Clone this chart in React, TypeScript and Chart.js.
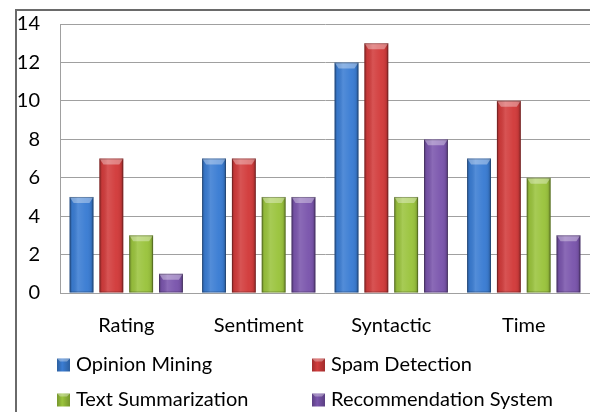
import React, { useEffect, useRef } from "react";
import { Chart, registerables } from "chart.js";

Chart.register(...registerables);

const categories = ["Rating", "Sentiment", "Syntactic", "Time"];
const seriesNames = ["Opinion Mining", "Spam Detection", "Text Summarization", "Recommendation System"];
const opinionMining = [5, 7, 12, 7];
const spamDetection = [7, 7, 13, 10];
const textSummarization = [3, 5, 5, 6];
const recommendationSystem = [1, 5, 8, 3];
const yTicks = [0, 2, 4, 6, 8, 10, 12, 14];

const colors = ["#3b7dd3", "#d23c3c", "#9bc43e", "#7b56ad"];
const borders = ["#2c5f9f", "#a02c2c", "#76962c", "#5b3f82"];
const FONT = "Lato";

const borderPlugin = {
  id: "frameBorder",
  beforeDraw(chart: any) {
    const ctx = chart.ctx;
    ctx.save();
    ctx.strokeStyle = "#6a6a6a";
    ctx.lineWidth = 2;
    ctx.beginPath();
    ctx.moveTo(16, chart.height);
    ctx.lineTo(16, 10);
    ctx.lineTo(chart.width, 10);
    ctx.stroke();
    ctx.restore();
  },
};

const bevelPlugin = {
  id: "bevel",
  afterDatasetsDraw(chart: any) {
    const ctx = chart.ctx;
    ctx.save();
    chart.data.datasets.forEach((_: any, di: number) => {
      const meta = chart.getDatasetMeta(di);
      meta.data.forEach((bar: any) => {
        const { x, y, base, width } = bar.getProps(["x", "y", "base", "width"], true);
        const l = x - width / 2;
        const r = x + width / 2;
        const h = base - y;
        if (h <= 0) return;
        const g = ctx.createLinearGradient(l, 0, r, 0);
        g.addColorStop(0, "rgba(0,0,0,0.28)");
        g.addColorStop(0.12, "rgba(0,0,0,0.05)");
        g.addColorStop(0.35, "rgba(255,255,255,0.12)");
        g.addColorStop(0.7, "rgba(255,255,255,0.02)");
        g.addColorStop(0.88, "rgba(0,0,0,0.06)");
        g.addColorStop(1, "rgba(0,0,0,0.3)");
        ctx.fillStyle = g;
        ctx.fillRect(l, y, width, h);
        const bv = Math.min(6, h / 2);
        ctx.fillStyle = "rgba(255,255,255,0.35)";
        ctx.beginPath();
        ctx.moveTo(l, y);
        ctx.lineTo(r, y);
        ctx.lineTo(r - 4, y + bv);
        ctx.lineTo(l + 4, y + bv);
        ctx.closePath();
        ctx.fill();
        ctx.strokeStyle = "rgba(0,0,0,0.25)";
        ctx.lineWidth = 1;
        ctx.strokeRect(l + 0.5, y + 0.5, width - 1, h - 1);
      });
    });
    ctx.restore();
  },
};

const legendPlugin = {
  id: "gridLegend",
  afterDraw(chart: any) {
    const ctx = chart.ctx;
    const cols = [57, 312];
    const rows = [365, 400];
    ctx.save();
    ctx.font = `20px ${FONT}`;
    ctx.textBaseline = "middle";
    ctx.textAlign = "left";
    chart.data.datasets.forEach((ds: any, i: number) => {
      const cx = cols[i % 2];
      const cy = rows[Math.floor(i / 2)];
      const s = 13;
      const g = ctx.createLinearGradient(cx, 0, cx + s, 0);
      g.addColorStop(0, ds.borderColor);
      g.addColorStop(0.4, ds.backgroundColor);
      g.addColorStop(1, ds.borderColor);
      ctx.fillStyle = g;
      ctx.fillRect(cx, cy - s / 2, s, s);
      ctx.fillStyle = "rgba(255,255,255,0.35)";
      ctx.beginPath();
      ctx.moveTo(cx, cy - s / 2);
      ctx.lineTo(cx + s, cy - s / 2);
      ctx.lineTo(cx + s - 3, cy - s / 2 + 3);
      ctx.lineTo(cx + 3, cy - s / 2 + 3);
      ctx.closePath();
      ctx.fill();
      ctx.fillStyle = "#000";
      ctx.fillText(ds.label, cx + s + 6, cy);
    });
    ctx.restore();
  },
};

export default function App() {
  const ref = useRef<HTMLCanvasElement>(null);
  useEffect(() => {
    if (!ref.current) return;
    const values = [opinionMining, spamDetection, textSummarization, recommendationSystem];
    const chart = new Chart(ref.current, {
      type: "bar",
      data: {
        labels: categories,
        datasets: seriesNames.map((name, i) => ({
          label: name,
          data: values[i],
          backgroundColor: colors[i],
          borderColor: borders[i],
          borderWidth: 0,
          categoryPercentage: 0.9,
          barPercentage: 0.8,
        })),
      },
      options: {
        responsive: false,
        animation: false,
        layout: { padding: { left: 0, right: 0, top: 24, bottom: 69 } },
        plugins: { legend: { display: false }, tooltip: { enabled: false } },
        scales: {
          x: {
            grid: { display: false },
            border: { display: true, color: "#a0a0a0" },
            ticks: { color: "#000", font: { family: FONT, size: 20 }, padding: 13 },
            afterFit: (s: any) => { s.height = 50; s.paddingLeft = 0; s.paddingRight = 0; },
          },
          y: {
            min: 0,
            max: 14,
            afterBuildTicks: (s: any) => { s.ticks = yTicks.map((v) => ({ value: v })); },
            grid: { color: "#a0a0a0", drawTicks: false },
            border: { display: true, color: "#a0a0a0" },
            ticks: { color: "#000", font: { family: FONT, size: 20 }, padding: 20 },
            afterFit: (s: any) => { s.width = 60; s.paddingTop = 0; s.paddingBottom = 0; },
          },
        },
      },
      plugins: [borderPlugin, bevelPlugin, legendPlugin],
    });
    return () => chart.destroy();
  }, []);
  return (
    <div style={{ position: "fixed", left: 0, top: 0, width: 590, height: 412, background: "#fff" }}>
      <canvas ref={ref} width={590} height={412} />
    </div>
  );
}
